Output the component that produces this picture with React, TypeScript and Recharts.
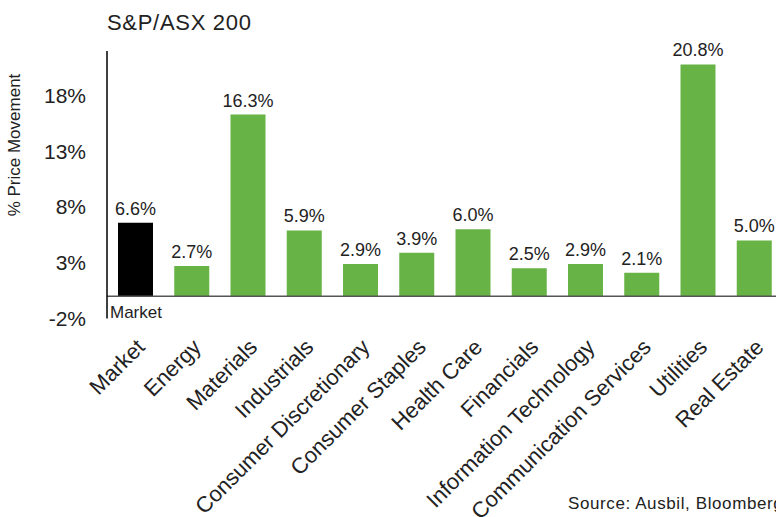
import React from "react";
import { BarChart, Bar, XAxis, YAxis, ReferenceLine, Cell, LabelList } from "recharts";

const sectors = [
  "Market",
  "Energy",
  "Materials",
  "Industrials",
  "Consumer Discretionary",
  "Consumer Staples",
  "Health Care",
  "Financials",
  "Information Technology",
  "Communication Services",
  "Utilities",
  "Real Estate",
];
const movement = [6.6, 2.7, 16.3, 5.9, 2.9, 3.9, 6.0, 2.5, 2.9, 2.1, 20.8, 5.0];
const yTicks = [-2, 3, 8, 13, 18];

const FONT = "'Liberation Sans', Arial, sans-serif";
const GREEN = "#67B345";

const rows = sectors.map((name, i) => ({ name, value: movement[i] }));

const CategoryTick = (props: any) => {
  const { x, y, payload } = props;
  const tx = x + 11;
  const ty = y + 30;
  return (
    <text
      x={tx}
      y={ty}
      transform={`rotate(-45, ${tx}, ${ty})`}
      textAnchor="end"
      fontSize={22}
      fill="#222"
      fontFamily={FONT}
    >
      {payload.value}
    </text>
  );
};

export default function App() {
  return (
    <div
      style={{
        position: "fixed",
        left: 0,
        top: 0,
        width: 776,
        height: 517,
        overflow: "hidden",
        background: "#fff",
        fontFamily: FONT,
        color: "#222",
      }}
    >
      <BarChart
        width={790}
        height={517}
        data={rows}
        margin={{ top: 51, right: 8, bottom: 168.5, left: 0 }}
      >
        <XAxis
          dataKey="name"
          axisLine={false}
          tickLine={false}
          tickSize={0}
          tickMargin={0}
          interval={0}
          height={30}
          tick={<CategoryTick />}
        />
        <YAxis
          type="number"
          domain={[-2, 22]}
          ticks={yTicks}
          width={107}
          tickLine={false}
          tickSize={0}
          tickMargin={21}
          axisLine={{ stroke: "#000", strokeWidth: 1.5 }}
          tickFormatter={(v: number) => `${v}%`}
          tick={{ fontSize: 21, fill: "#222", fontFamily: FONT }}
        />
        <ReferenceLine y={0} stroke="#555" strokeWidth={1.5} />
        <Bar dataKey="value" barSize={35} isAnimationActive={false}>
          {rows.map((r) => (
            <Cell key={r.name} fill={r.name === "Market" ? "#000" : GREEN} />
          ))}
          <LabelList
            dataKey="value"
            position="top"
            offset={8}
            formatter={(v: any) => `${Number(v).toFixed(1)}%`}
            style={{ fontSize: 18, fill: "#222", fontFamily: FONT }}
          />
        </Bar>
      </BarChart>

      <div style={{ position: "absolute", left: 107, top: 10, fontSize: 22, letterSpacing: 0.7, whiteSpace: "nowrap" }}>
        S&amp;P/ASX 200
      </div>
      <div
        style={{
          position: "absolute",
          left: 15,
          top: 145,
          fontSize: 17,
          whiteSpace: "nowrap",
          transform: "translate(-50%, -50%) rotate(-90deg)",
        }}
      >
        % Price Movement
      </div>
      <div style={{ position: "absolute", left: 110, top: 303, fontSize: 17, whiteSpace: "nowrap" }}>
        Market
      </div>
      <div style={{ position: "absolute", left: 568, top: 494, fontSize: 17, letterSpacing: 0.6, whiteSpace: "nowrap" }}>
        Source: Ausbil, Bloomberg
      </div>
    </div>
  );
}
